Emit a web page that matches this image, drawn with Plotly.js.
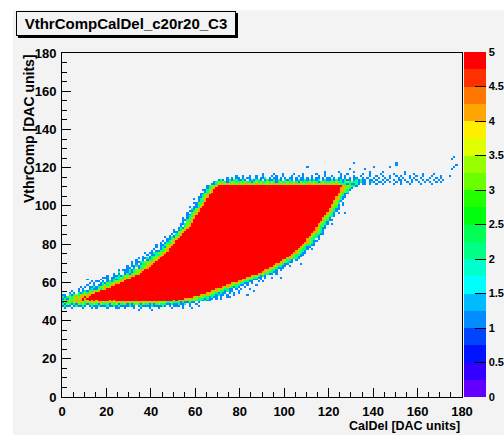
<!DOCTYPE html>
<html><head><meta charset="utf-8">
<script src="https://cdn.plot.ly/plotly-3.0.1.min.js"></script>
<style>html,body{margin:0;padding:0;background:#ffffff;}#chart{width:504px;height:435px;}</style>
</head><body><div id="chart"></div>
<script>
// ---- texts ----
const titleText = "VthrCompCalDel_c20r20_C3";
const xTitle = "CalDel [DAC units]";
const yTitle = "VthrComp [DAC units]";

// ---- axis / scale ----
const nBinsX = 180;
const nBinsY = 180;
const zMin = 0;
const zMax = 5;
const axisTickVals = [0, 20, 40, 60, 80, 100, 120, 140, 160, 180];
const paletteTickVals = [0, 0.5, 1, 1.5, 2, 2.5, 3, 3.5, 4, 4.5, 5];
// 20 contour colours (ROOT pretty palette), from 0 to 5
const paletteColors = ["#6200ff","#3300ff","#0014ff","#0044ff","#008bff","#00bbff","#00fffc","#00ffcc",
  "#00ff85","#00ff55","#00ff0e","#22ff00","#69ff00","#99ff00","#e0ff00","#ffee00",
  "#ffa700","#ff7700","#ff3000","#ff0000"];

// ---- saturated (>=5) region per VthrComp row ----
const redRows = [51,52,53,54,55,56,57,58,59,60,61,62,63,64,65,66,67,68,69,70,
  71,72,73,74,75,76,77,78,79,80,81,82,83,84,85,86,87,88,89,90,
  91,92,93,94,95,96,97,98,99,100,101,102,103,104,105,106,107,108,109,110];
const redLeft = [12,13,14,15,17,20,22,24,26,28, 29,31,33,35,36,37,39,40,41,42,
  43,44,45,46,47,48,48,49,50,51, 51,52,53,54,54,55,56,57,58,58,
  59,59,60,60,61,61,62,62,63,64, 64,65,65,66,66,67,68,68,69,70];
const redRight = [54,58,61,64,66,68,71,73,75,78, 80,82,84,87,89,90,92,94,95,97,
  98,100,101,102,103,104,105,106,107,108, 109,109,110,111,111,112,113,113,114,114,
  115,116,116,117,118,118,119,119,120,120, 121,121,122,122,123,123,124,124,124,125];
// fringe contents left of the saturated run (read left to right, last char touches the run)
const leftFringe = ["121323434545","2123234344545","11021232343445","101021232434","1001012132434",
  "1010012113234","10101121233434","1001011232344","10100121323344","1101012123344",
  "100101212234","1010112232434","1001121233444","101001212334","10011212334",
  "101112123344","1001012234","10112123344","1010122334","10112233444",
  "1001012234","1011212334","100122344","10112234","1011223344",
  "10112234","1001234","1012134","10112344","1012234",
  "101234","11234","1012134","101224","10234",
  "11334","101234","12134","10234","11234",
  "10324","11234","101234","1224","11334",
  "10234","11234","2134","101124","1234",
  "11324","1224","101234","11234","1234",
  "11324","1234","11234","1234","12334"];
// fringe contents right of the saturated run (first char touches the run)
const rightFringe = ["44343322212110101","43433221211010010","4434322121101001","443321211010101","43432212110010",
  "4343221101010001","434321210010","44332211010001","434322110100","443221100101",
  "4432211010","433221101001","44321210","4432211010","44322110",
  "44322101","4432111","43221101","4432110","443211",
  "4322101","443221","4432110","432211","443211",
  "43221","4322101","43211","432211","44321",
  "43211","432201","43221","4321","432211",
  "44321","4321","43211","4231","4322101",
  "4321","43211","4331","43221","4321",
  "432101","4421","43211","4321","4331",
  "43201","4321","4421","43211","4321",
  "43211","4432","44321","443321","4433221"];

// ---- rows written out cell by cell (row, first CalDel bin, contents) ----
const extraRows = [45,46,47,48,49,50,111,112,113,114,115,116,117,119,120,122,124];
const extraStart = [30,0,0,0,0,0,67,68,70,74,78,90,118,128,140,150,175];
const extraCells = [
  "00001000001",
  "01001000010001010000100011001000100100010001000001000010001",
  "12110121121012112111211212111121101211112111121010111010010001",
  "21321213232122321322213231223121232132212123222112112112010010",
  "13232343432343434434343343434434334433434343333223222121121101",
  "2343434445445454555554545555555555555555555555555545444343332221211",
  "112344344343433443434434334344343434434343344434343443434322212112101101001001000010010001000010000100",
  "1232321233223232212323223232123223223213222323212322232322123232212110121011010100101001010010010100101",
  "1210121221121012122101211212102121012112121212012112121212110121211011010010100101101001010010100101010",
  "1010110101100101120101101010110101101010110101101011010101100101001010010100010100101001000100101",
  "1001001001001000101001000100101000100100100100010100010010001001001001001010001001001000100010001",
  "100001000100001000100000100010000001001000000100100001000001000010001000100001",
  "100000100000010000001000001000000000100",
  "0100000010000000000000000000000000000000000000010",
  "1000000100000000000000000000000000001",
  "1",
  "1"];
// isolated single cells
const lonelyX = [11,13,19,16,25,30,126,127,98,107,86,75,83,110,131,150,176,177];
const lonelyY = [61,60,62,58,65,67,100,96,62,69,55,52,53,120,122,121,125,121];
const lonelyV = [1,1,1,1,2,1,1,1,1,1,1,1,1,1,1,1,1,1];

// ---- build the histogram table ----
const z = Array.from({length: nBinsY}, () => Array(nBinsX).fill(null));
function put(x, y, v) {
  if (x >= 0 && x < nBinsX && y >= 0 && y < nBinsY && v > 0) z[y][x] = v;
}
redRows.forEach((y, i) => {
  for (let x = redLeft[i]; x <= redRight[i]; x++) put(x, y, 5);
  const ls = leftFringe[i];
  for (let k = 0; k < ls.length; k++) put(redLeft[i] - ls.length + k, y, +ls[k]);
  const rs = rightFringe[i];
  for (let k = 0; k < rs.length; k++) put(redRight[i] + 1 + k, y, +rs[k]);
});
extraRows.forEach((y, i) => {
  const s = extraCells[i];
  for (let k = 0; k < s.length; k++) put(extraStart[i] + k, y, +s[k]);
});
lonelyX.forEach((x, i) => put(x, lonelyY[i], lonelyV[i]));

// stepped colour scale (integer values fall into the band just above them)
const colorscale = [];
paletteColors.forEach((c, i) => {
  const n = paletteColors.length;
  const a = i === 0 ? 0 : i / n - 0.0005;
  const b = i === n - 1 ? 1 : (i + 1) / n - 0.0005;
  colorscale.push([a, c], [b, c]);
});

const FONT = "Liberation Sans, Arial, Helvetica, sans-serif";
const bg = "#f3f3f3";
const L = 62, R = 462, T = 53, B = 397;
const px = v => (v - L) / (R - L);
const py = v => (B - v) / (B - T);

const trace = {
  type: "heatmap", z: z, x0: 0.5, dx: 1, y0: 0.5, dy: 1,
  zmin: zMin, zmax: zMax, zauto: false, colorscale: colorscale, zsmooth: false,
  hoverinfo: "skip",
  colorbar: {
    x: px(464), xanchor: "left", xpad: 0, y: py(224.5), yanchor: "middle", ypad: 0,
    len: 345, lenmode: "pixels", thickness: 22, thicknessmode: "pixels",
    outlinewidth: 0, borderwidth: 0,
    tickmode: "array", tickvals: paletteTickVals, ticktext: paletteTickVals.map(String),
    ticks: "inside", ticklen: 11, tickwidth: 1, tickcolor: "#000",
    tickfont: {family: FONT, size: 11, color: "#000", weight: "bold"}
  }
};

const axisCommon = {
  range: [0, 180], showgrid: false, zeroline: false,
  showline: true, linecolor: "#000", linewidth: 1, mirror: true,
  ticks: "inside", ticklen: 9, tickwidth: 1, tickcolor: "#000",
  tickmode: "array", tickvals: axisTickVals,
  tickfont: {family: FONT, size: 13, color: "#000", weight: "bold"},
  minor: {ticks: "inside", ticklen: 5, dtick: 5, tick0: 0, tickcolor: "#000", tickwidth: 1, showgrid: false},
  fixedrange: true
};

const layout = {
  width: 504, height: 435,
  margin: {l: L, r: 504 - R, t: T, b: 435 - B, autoexpand: false},
  paper_bgcolor: bg, plot_bgcolor: bg,
  showlegend: false,
  xaxis: Object.assign({}, axisCommon, {ticklabelstandoff: 2}),
  yaxis: Object.assign({}, axisCommon, {ticklabelstandoff: 2}),
  shapes: [
    {type: "rect", xref: "paper", yref: "paper", x0: px(0), x1: px(504), y0: py(10), y1: py(0),
     fillcolor: "#ffffff", line: {width: 0}, layer: "above"},
    {type: "rect", xref: "paper", yref: "paper", x0: px(0), x1: px(13), y0: py(435), y1: py(0),
     fillcolor: "#ffffff", line: {width: 0}, layer: "above"},
    {type: "rect", xref: "paper", yref: "paper", x0: px(18), x1: px(238), y0: py(38), y1: py(13),
     fillcolor: "#000000", line: {width: 0}, layer: "above"}
  ],
  annotations: [
    {text: titleText, xref: "paper", yref: "paper", x: px(126), y: py(23.5),
     xanchor: "center", yanchor: "middle", showarrow: false,
     width: 218, height: 23, align: "center", valign: "middle",
     bgcolor: bg, bordercolor: "#000", borderwidth: 1, borderpad: 0,
     font: {family: FONT, size: 15, color: "#000", weight: "bold"}},
    {text: xTitle, xref: "paper", yref: "paper", x: px(462), y: py(426),
     xanchor: "right", yanchor: "middle", showarrow: false,
     font: {family: FONT, size: 12.5, color: "#000", weight: "bold"}},
    {text: yTitle, xref: "paper", yref: "paper", x: px(28.5), y: py(52),
     xanchor: "center", yanchor: "top", showarrow: false, textangle: -90,
     font: {family: FONT, size: 14, color: "#000", weight: "bold"}}
  ]
};

Plotly.newPlot("chart", [trace], layout, {displayModeBar: false, staticPlot: true});
</script>
</body></html>
